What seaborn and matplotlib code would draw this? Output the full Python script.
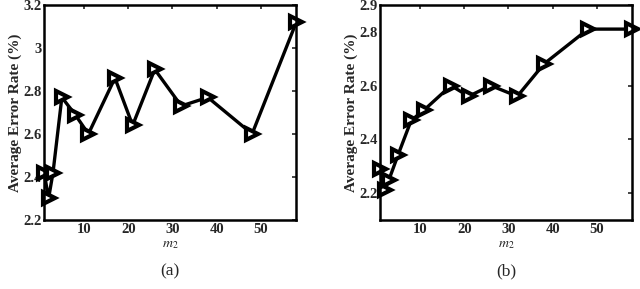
import numpy as np
import pandas as pd
import matplotlib
matplotlib.use("Agg")
import matplotlib.pyplot as plt
import seaborn as sns

m2 = [1, 2, 3, 5, 8, 11, 17, 21, 26, 32, 38, 48, 58]
err_a = [2.42, 2.30, 2.42, 2.77, 2.69, 2.60, 2.86, 2.64, 2.90, 2.73, 2.77, 2.60, 3.12]
err_b = [2.29, 2.21, 2.25, 2.34, 2.47, 2.51, 2.60, 2.56, 2.60, 2.56, 2.68, 2.81, 2.81]

yticks_a = [2.2, 2.4, 2.6, 2.8, 3.0, 3.2]
ytick_labels_a = ["2.2", "2.4", "2.6", "2.8", "3", "3.2"]
yticks_b = [2.2, 2.4, 2.6, 2.8, 2.9]
ytick_labels_b = ["2.2", "2.4", "2.6", "2.8", "2.9"]
xticks = [10, 20, 30, 40, 50]

sns.set_style("white")
plt.rcParams['font.family'] = ['Liberation Serif', 'DejaVu Serif']
plt.rcParams['mathtext.fontset'] = 'stix'

fig = plt.figure(figsize=(6.4, 2.89), dpi=100)
ax_a = fig.add_axes([0.069, 0.239, 0.394, 0.744])
ax_b = fig.add_axes([0.594, 0.239, 0.394, 0.744])

panels = [
    (ax_a, err_a, (2.2, 3.2), yticks_a, ytick_labels_a, "(a)"),
    (ax_b, err_b, (2.1, 2.9), yticks_b, ytick_labels_b, "(b)"),
]

for ax, err, ylim, yt, ytl, tag in panels:
    df = pd.DataFrame({"m2": m2, "err": err})
    sns.lineplot(data=df, x="m2", y="err", ax=ax, color="black", linewidth=2.4,
                 marker=">", markersize=9, markerfacecolor="white",
                 markeredgecolor="black", markeredgewidth=3, sort=False,
                 clip_on=False)
    ax.set_xlim(1, 58)
    ax.set_ylim(*ylim)
    ax.set_xticks(xticks)
    ax.set_xticklabels([str(t) for t in xticks], fontweight="bold", fontsize=10.5)
    ax.set_yticks(yt)
    ax.set_yticklabels(ytl, fontweight="bold", fontsize=10.5)
    ax.tick_params(direction="in", length=3, width=1.2, top=True, right=True,
                   pad=2)
    for s in ax.spines.values():
        s.set_linewidth(1.8)
        s.set_color("black")
    ax.set_xlabel(r"$m_2$", fontsize=10, labelpad=2)
    ax.set_ylabel("Average Error Rate (%)", fontsize=11, fontweight="bold", labelpad=1)
    ax.text(0.5, -0.2, tag, transform=ax.transAxes, ha="center", va="top",
            fontsize=12.5)

fig.savefig("out.png", dpi=100)
